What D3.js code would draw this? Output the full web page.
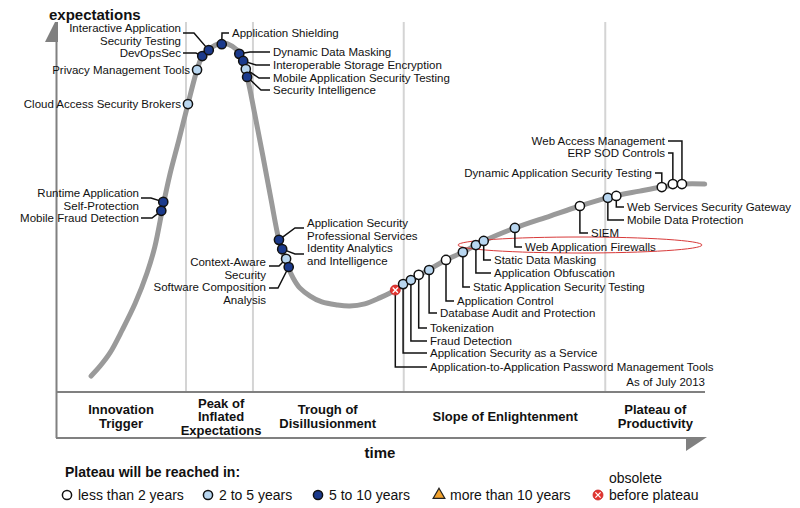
<!DOCTYPE html>
<html>
<head>
<meta charset="utf-8">
<script src="https://cdn.jsdelivr.net/npm/d3@7"></script>
<style>
  body { margin: 0; background: #fff; }
  svg { font-family: "Liberation Sans", Arial, sans-serif; }
</style>
</head>
<body>
<svg id="chart" width="800" height="508"></svg>
<script>
// Hype curve: time 0-100, expectations 0-100
const curveTime = [5.4, 6.8, 8.3, 10.2, 12.2, 14.0, 15.2, 16.5, 17.5, 18.9, 20.3, 21.7, 22.6, 24.0, 25.5,
  27.1, 28.3, 29.4, 30.6, 31.8, 33.1, 34.3, 35.4, 36.5, 37.5, 39.1, 40.9, 43.2, 45.2, 47.5, 49.8,
  52.2, 53.4, 56.0, 60.0, 62.6, 65.8, 70.6, 76.0, 80.6, 85.2, 89.8, 93.2, 96.5, 99.8];
const curveExpect = [4.3, 7.0, 10.5, 16.7, 23.9, 32.0, 39.0, 50.3, 58.3, 67.7, 77.4, 86.6, 90.6, 92.7, 93.8,
  93.0, 90.9, 84.7, 74.5, 63.7, 51.6, 40.9, 34.9, 30.6, 28.0, 25.8, 24.2, 23.4, 23.1, 23.7, 25.3,
  27.4, 29.0, 31.5, 35.5, 37.6, 40.6, 44.1, 47.3, 50.0, 52.4, 54.0, 55.1, 55.9, 55.9];

// Technologies on the curve
const techNames = [
  "Runtime Application\nSelf-Protection", "Mobile Fraud Detection", "Cloud Access Security Brokers",
  "Privacy Management Tools", "DevOpsSec", "Interactive Application\nSecurity Testing",
  "Application Shielding", "Dynamic Data Masking", "Interoperable Storage Encryption",
  "Mobile Application Security Testing", "Security Intelligence",
  "Application Security\nProfessional Services", "Identity Analytics\nand Intelligence",
  "Context-Aware\nSecurity", "Software Composition\nAnalysis",
  "Application-to-Application Password Management Tools", "Application Security as a Service",
  "Fraud Detection", "Tokenization", "Database Audit and Protection", "Application Control",
  "Static Application Security Testing", "Application Obfuscation", "Static Data Masking",
  "Web Application Firewalls", "SIEM", "Mobile Data Protection", "Web Services Security Gateway",
  "Dynamic Application Security Testing", "ERP SOD Controls", "Web Access Management"
];
const techTime = [16.5, 16.2, 20.3, 21.7, 22.5, 23.5, 25.5, 28.2, 28.8, 29.2, 29.4,
  34.3, 34.8, 35.4, 35.8, 52.2, 53.4, 54.6, 55.8, 57.4, 60.0, 62.6, 64.6, 65.8, 70.6,
  80.6, 84.9, 86.2, 93.2, 94.9, 96.3];
const techExpect = [51.1, 48.7, 77.4, 86.6, 90.3, 91.9, 93.5, 90.9, 89.0, 86.8, 84.7,
  40.9, 38.4, 35.8, 33.6, 27.4, 29.0, 30.1, 31.5, 32.8, 35.5, 37.6, 39.5, 40.6, 44.1,
  50.0, 52.2, 52.7, 55.1, 55.9, 55.9];
const techPlateau = ["5to10", "5to10", "2to5", "2to5", "5to10", "5to10", "5to10", "5to10", "5to10", "2to5", "5to10",
  "5to10", "5to10", "2to5", "5to10", "obsolete", "2to5", "2to5", "lt2", "2to5", "lt2", "2to5", "2to5", "2to5", "2to5",
  "lt2", "2to5", "lt2", "lt2", "lt2", "lt2"];

// Phases
const phaseNames = ["Innovation\nTrigger", "Peak of\nInflated\nExpectations", "Trough of\nDisillusionment",
  "Slope of Enlightenment", "Plateau of\nProductivity"];
const phaseCenters = [10.0, 25.4, 41.8, 69.1, 92.2];
const phaseBounds = [20.0, 30.3, 53.5, 84.5];

// Legend
const legendKeys = ["lt2", "2to5", "5to10", "gt10", "obsolete"];
const legendLabels = ["less than 2 years", "2 to 5 years", "5 to 10 years", "more than 10 years", "before plateau"];

// label layout (pixels): [x, y of first line, anchor, leader kind, leader points]
const labelLayout = [
  [139, 193, "end", "pts", [[141, 198], [151, 198]]],
  [139, 218, "end", "pts", [[141, 218], [152, 218]]],
  [181, 104, "end", "none"],
  [190, 70, "end", "none"],
  [181, 53, "end", "pts", [[183, 53], [196, 53]]],
  [181, 28, "end", "pts", [[183, 33], [194, 33]]],
  [232, 33, "start", "pts", [[229, 33], [222, 33]]],
  [273, 52, "start", "pts", [[270, 52], [250, 52]]],
  [273, 65, "start", "pts", [[270, 65], [256, 65]]],
  [273, 78, "start", "pts", [[270, 78], [259, 78]]],
  [273, 90, "start", "pts", [[270, 90], [261, 90]]],
  [307, 223, "start", "pts", [[304, 228], [295, 228]]],
  [307, 248, "start", "pts", [[304, 254], [295, 254]]],
  [266, 262, "end", "pts", [[269, 266], [279, 266]]],
  [266, 287, "end", "pts", [[269, 288], [278, 288]]],
  [430, 367, "start", "down"],
  [430, 353, "start", "down"],
  [430, 341, "start", "down"],
  [430, 328, "start", "down"],
  [440, 313, "start", "down"],
  [457, 301, "start", "down"],
  [473, 287, "start", "down"],
  [494, 273, "start", "down"],
  [494, 260, "start", "down"],
  [525, 247, "start", "down"],
  [591, 233, "start", "down"],
  [627, 220, "start", "down"],
  [627, 207, "start", "down"],
  [652, 173, "end", "up"],
  [665, 153, "end", "up"],
  [665, 141, "end", "up"]
];

const fills = { lt2: "#ffffff", "2to5": "#b8d6f0", "5to10": "#1b3a8c" };

const svg = d3.select("#chart");
const x = d3.scaleLinear().domain([0, 100]).range([56, 706]);
const y = d3.scaleLinear().domain([0, 100]).range([392, 20]);

// phase separators
svg.append("g").selectAll("line").data(phaseBounds).join("line")
  .attr("x1", d => x(d)).attr("x2", d => x(d))
  .attr("y1", 22).attr("y2", 392)
  .attr("stroke", "#d4d4d4").attr("stroke-width", 2);

// frame: expectations axis, phase band and time arrow
const frame = svg.append("g").attr("stroke", "#808080").attr("stroke-width", 2).attr("fill", "none");
frame.append("line").attr("x1", 56.5).attr("x2", 56.5).attr("y1", 40).attr("y2", 438);
frame.append("line").attr("x1", 56).attr("x2", 705).attr("y1", 392).attr("y2", 392);
frame.append("line").attr("x1", 56).attr("x2", 690).attr("y1", 438).attr("y2", 438);
svg.append("path").attr("d", "M45,42L55,22L58,22L58,42Z").attr("fill", "#808080");
svg.append("path").attr("d", "M686,437L707,437L686,451Z").attr("fill", "#808080");

svg.append("text").attr("x", 49).attr("y", 19.5)
  .attr("font-size", 15).attr("font-weight", "bold").attr("fill", "#111").text("expectations");

// hype curve
const line = d3.line().x((d, i) => x(curveTime[i])).y(d => y(d)).curve(d3.curveCatmullRom.alpha(0.5));
svg.append("path").attr("d", line(curveExpect))
  .attr("fill", "none").attr("stroke", "#9a9a9a").attr("stroke-width", 5).attr("stroke-linecap", "round");

// highlight ring round Web Application Firewalls
svg.append("ellipse").attr("cx", 580).attr("cy", 245).attr("rx", 122).attr("ry", 8)
  .attr("fill", "none").attr("stroke", "#d83a3a").attr("stroke-width", 1);

// leader lines
const leaders = svg.append("g").attr("fill", "none").attr("stroke", "#111").attr("stroke-width", 1.5);
techNames.forEach((name, i) => {
  const [lx, ly, anchor, kind, pts] = labelLayout[i];
  const dx = x(techTime[i]), dy = y(techExpect[i]);
  let d = null;
  if (kind === "pts") d = "M" + pts.map(p => p.join(",")).join("L") + "L" + dx + "," + dy;
  else if (kind === "down") d = `M${dx},${dy}V${ly}H${lx - 3}`;
  else if (kind === "up") d = `M${dx},${dy}V${ly}H${lx + 3}`;
  if (d) leaders.append("path").attr("d", d);
});

function drawMarker(g, cat) {
  if (cat === "obsolete") {
    g.append("circle").attr("r", 5).attr("fill", "#e3342f").attr("stroke", "#c62828").attr("stroke-width", 0.8);
    g.append("path").attr("d", "M-2.6,-2.6L2.6,2.6M-2.6,2.6L2.6,-2.6")
      .attr("stroke", "#fff").attr("stroke-width", 1.3);
  } else if (cat === "gt10") {
    g.append("path").attr("d", d3.symbol(d3.symbolTriangle, 60)())
      .attr("fill", "#f2a22e").attr("stroke", "#222").attr("stroke-width", 1.2);
  } else {
    g.append("circle").attr("r", 4.6).attr("fill", fills[cat])
      .attr("stroke", "#111").attr("stroke-width", 1.5);
  }
}

// technology markers
techNames.forEach((name, i) => {
  const g = svg.append("g").attr("transform", `translate(${x(techTime[i])},${y(techExpect[i])})`);
  drawMarker(g, techPlateau[i]);
});

// technology labels
techNames.forEach((name, i) => {
  const [lx, ly, anchor] = labelLayout[i];
  const t = svg.append("text").attr("x", lx).attr("y", ly)
    .attr("font-size", 11.5).attr("fill", "#111").attr("text-anchor", anchor);
  name.split("\n").forEach((s, k) => {
    t.append("tspan").attr("x", lx).attr("y", ly + k * 12.5).attr("dy", "0.36em").text(s);
  });
});

svg.append("text").attr("x", 705).attr("y", 382).attr("dy", "0.36em")
  .attr("text-anchor", "end").attr("font-size", 11.5).attr("fill", "#111").text("As of July 2013");

// phase labels
phaseNames.forEach((name, i) => {
  const parts = name.split("\n");
  const t = svg.append("text").attr("text-anchor", "middle")
    .attr("font-size", 13).attr("font-weight", "bold").attr("fill", "#111");
  parts.forEach((s, k) => {
    t.append("tspan").attr("x", x(phaseCenters[i]))
      .attr("y", 416.5 + (k - (parts.length - 1) / 2) * 13.5).attr("dy", "0.36em").text(s);
  });
});

svg.append("text").attr("x", 380).attr("y", 453).attr("dy", "0.36em").attr("text-anchor", "middle")
  .attr("font-size", 15).attr("font-weight", "bold").attr("fill", "#111").text("time");

// legend
svg.append("text").attr("x", 65).attr("y", 472).attr("dy", "0.36em")
  .attr("font-size", 14).attr("font-weight", "bold").attr("fill", "#111").text("Plateau will be reached in:");

const legendX = [67, 208, 318, 439, 598];
legendKeys.forEach((k, i) => {
  const g = svg.append("g").attr("transform", `translate(${legendX[i]},495)`);
  drawMarker(g, k);
  svg.append("text").attr("x", legendX[i] + 11).attr("y", 495).attr("dy", "0.36em")
    .attr("font-size", 14).attr("fill", "#111").text(legendLabels[i]);
});
svg.append("text").attr("x", 609).attr("y", 478).attr("dy", "0.36em")
  .attr("font-size", 14).attr("fill", "#111").text("obsolete");
</script>
</body>
</html>
